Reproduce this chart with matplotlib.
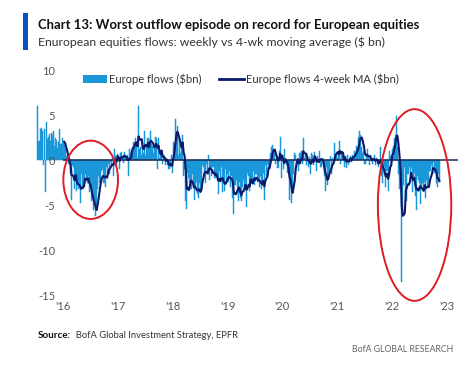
import numpy as np
import pandas as pd
import matplotlib
matplotlib.use("Agg")
import matplotlib.pyplot as plt
import matplotlib.dates as mdates
from matplotlib.patches import Ellipse, Rectangle
from matplotlib.lines import Line2D

# weekly Europe equity fund flows ($bn)
flows_2015 = [6.0, 2.1, 3.4, 3.6, 3.2, -0.6, 3.5, -3.6, 4.2, 2.3, 2.6, 2.9, 2.1,
              3.0, 2.8, 3.2, 1.6, 2.5, 2.2, 1.3, 2.0, 3.4, 1.8, 2.4, 1.9]
flows_2016 = [2.0, 1.2, 0.5, 0.3, -0.4, -0.4, -1.5, -4.4, -0.6, -0.8, -3.2, -2.0, -3.4,
              -2.2, -3.2, -2.6, -4.8, -1.6, -3.2, -2.0, -1.5, -2.2, -2.6, -1.8, -3.6, -3.0,
              -4.6, -4.2, -5.6, -4.8, -6.2, -5.6, -3.2, -1.8, -2.6, -2.4, -1.2, -1.0, -2.6,
              -3.0, -0.8, -1.4, -0.4, -1.6, -0.2, -0.5, 0.3, -1.8, 1.2, 0.5, -0.6, 0.7]
flows_2017 = [0.5, -1.0, 0.8, 0.9, 0.4, -0.3, 0.9, 0.2, 0.6, -1.8, 1.2, 0.8, 1.0,
              1.5, 2.0, 1.6, 2.5, 1.8, 0.2, 6.0, 1.2, 1.5, 0.6, 2.0, 0.8, 3.2,
              0.6, 1.4, 2.4, 1.2, 3.2, 1.8, 1.6, 0.8, 1.4, 2.6, 2.4, -1.0, 2.4,
              0.2, 1.0, 0.6, -0.4, 0.4, 0.3, -0.6, 0.1, -0.5, -1.0, -0.8, 0.6, -1.4]
flows_2018 = [2.0, 1.8, 4.6, 2.4, 3.8, 0.6, 2.6, 0.8, 1.6, 2.8, -1.8, -1.0, -4.6,
              -5.4, -1.4, -2.0, -2.6, -3.2, -1.6, -3.0, -4.4, -3.0, -2.4, -3.8, -4.2, -2.6,
              -3.6, -2.8, -0.6, -0.8, -1.4, -2.6, -0.4, -1.6, 0.6, -2.2, -1.0, -1.8, -0.8,
              -2.0, -2.0, -1.4, -2.0, -3.8, -1.2, -2.4, -0.8, -3.6, -2.6, -3.4, -1.0, -2.6]
flows_2019 = [-1.6, -2.4, -1.2, -3.0, -1.8, -4.2, -6.0, -2.8, -2.2, -3.0, -4.6, -2.4, -4.2,
              -4.5, -3.0, -2.2, -3.2, -2.6, -5.2, -1.4, -1.8, -3.4, -2.0, -2.6, -2.4, -1.2,
              -2.8, -1.6, -2.4, -2.2, -3.0, -1.8, -3.2, -2.8, -1.4, -4.4, -0.6, -1.8, -0.4,
              -0.8, -0.6, 0.8, 1.4, 1.7, 0.6, 0.9, -0.4, 0.2, -0.9, 1.0, 2.6, -2.0]
flows_2020 = [0.4, -1.0, 1.2, -0.2, -0.6, -1.4, -1.2, -4.4, -2.0, -4.8, -3.4, -1.6, 0.8,
              0.6, -0.8, -0.2, -1.2, 0.8, 1.0, -0.4, 2.5, 0.2, 0.6, -0.6, 0.4, -0.8,
              0.3, -1.6, 0.8, 0.6, -0.6, 0.9, 0.1, -1.2, 0.4, -0.2, 1.0, -0.8, 0.2,
              -0.4, -1.8, -3.4, -0.8, -2.8, -1.4, -1.2, 0.4, -1.6, 0.2, -0.4, 1.9, 0.6]
flows_2021 = [0.8, 0.2, 1.0, 2.1, -0.4, 0.9, 0.6, -0.8, 0.4, -0.9, 0.6, -0.6, 0.2,
              0.4, -0.2, 0.6, 0.3, 1.0, 0.5, 1.6, 1.2, 2.6, 3.2, 2.8, 1.4, 0.8,
              1.0, -0.4, 0.6, 1.2, 0.4, -0.6, 0.6, 0.2, -0.4, 0.0, 0.6, -0.6, 0.2,
              -0.4, -0.8, -0.2, 1.4, -1.8, -2.6, -1.0, -0.8, -3.0, -1.2, -3.4, 1.0, 0.4]
flows_2022 = [-0.4, 1.2, 1.6, 2.4, 2.0, 4.9, 1.4, -1.6, -3.2, -1.8, -13.6, -6.2, -2.8,
              -0.8, -3.8, -4.6, -1.6, -0.8, -2.4, -0.9, -3.6, -2.0, -1.4, -4.0, -5.6, -1.8,
              -2.2, -2.6, -4.9, -2.8, -2.6, -3.4, -2.4, -4.2, -2.2, -3.0, -2.6, -1.2, -0.6,
              -1.6, -0.2, -1.4, -1.0, -2.6, -3.0, -1.6, -2.2]

first_week = "2015-07-15"
ma_start = "2016-01-01"
year_ticks = [2016, 2017, 2018, 2019, 2020, 2021, 2022, 2023]
year_labels = ["'16", "'17", "'18", "'19", "'20", "'21", "'22", "'23"]
y_ticks = [10, 5, 0, -5, -10, -15]

flows = (flows_2015 + flows_2016 + flows_2017 + flows_2018
         + flows_2019 + flows_2020 + flows_2021 + flows_2022)
weeks = pd.date_range(first_week, periods=len(flows), freq="7D")
series = pd.Series(flows, index=weeks)
ma4 = series.rolling(4).mean()
ma4 = ma4[ma4.index >= ma_start]

BAR_BLUE = "#1a97d8"
NAVY = "#0b1a6b"
GREY = "#555555"
RED = "#e01b24"
FONT = ["Lato", "DejaVu Sans"]

W, H = 474, 374
fig = plt.figure(figsize=(W / 100, H / 100), dpi=100)
fig.patch.set_facecolor("white")


def px(x, y):
    return x / W, 1 - y / H


ax_l, ax_r, ax_t, ax_b = 36, 458, 70, 295
ax = fig.add_axes([ax_l / W, 1 - ax_b / H, (ax_r - ax_l) / W, (ax_b - ax_t) / H])
ax.set_ylim(-15, 10)
ax.set_xlim(pd.Timestamp("2015-07-02"), pd.Timestamp("2023-03-20"))

ax.bar(series.index, series.values, width=7.0, color=BAR_BLUE,
       edgecolor=BAR_BLUE, linewidth=0.35, zorder=1)
ax.hlines(0, pd.Timestamp(ma_start), pd.Timestamp("2023-03-20"), color="#1c2a55",
          linewidth=1.1, zorder=2)
ax.plot(ma4.index, ma4.values, color=NAVY, linewidth=1.5, zorder=3,
        solid_joinstyle="round")

for s in ax.spines.values():
    s.set_visible(False)

ax.set_yticks(y_ticks)
ax.set_yticklabels([str(v) for v in y_ticks])
ax.set_xticks([pd.Timestamp(f"{y}-01-01") for y in year_ticks])
ax.set_xticklabels(year_labels)
ax.tick_params(axis="y", length=0, pad=-13.7, labelsize=8, labelcolor=GREY)
ax.tick_params(axis="x", length=0, pad=4.5, labelsize=8, labelcolor=GREY)
for lab in ax.get_xticklabels() + ax.get_yticklabels():
    lab.set_family(FONT)

# red highlight circles
d2n = mdates.date2num
e1 = Ellipse((d2n(pd.Timestamp("2016-07-01")), -2.2), width=365, height=8.7,
             fill=False, edgecolor=RED, linewidth=1.4, zorder=4, clip_on=False)
e2 = Ellipse((d2n(pd.Timestamp("2022-06-03")), -5.0), width=490, height=21.3,
             fill=False, edgecolor=RED, linewidth=1.4, zorder=4, clip_on=False)
ax.add_patch(e1)
ax.add_patch(e2)

# legend
handles = [Rectangle((0, 0), 1, 1, color=BAR_BLUE, linewidth=0),
           Line2D([], [], color=NAVY, linewidth=2)]
fig.legend(handles, ["Europe flows ($bn)", "Europe flows 4-week MA ($bn)"],
           loc="center left", bbox_to_anchor=px(83, 79), ncol=2, frameon=False,
           borderaxespad=0, borderpad=0, handlelength=2.2, handletextpad=0.15,
           columnspacing=1.6, prop={"family": FONT, "size": 8},
           labelcolor="#333333")

# header
fig.patches.append(Rectangle(px(23, 50), 5 / W, 37 / H, transform=fig.transFigure,
                             color="#0a4fc4", linewidth=0))
title = fig.text(*px(38, 25), "Chart 13: Worst outflow episode on record for European equities",
                 fontsize=10, fontweight="bold", family=FONT, color="#111111",
                 va="center", ha="left")
subtitle = fig.text(*px(38, 42), "Enuropean equities flows: weekly vs 4-wk moving average ($ bn)",
                    fontsize=9, family=FONT, color="#333333", va="center", ha="left")

# footer
source = fig.text(*px(38, 336), "Source:", fontsize=8, fontweight="bold", family=FONT,
                  color="#111111", va="center", ha="left")
source_rest = fig.text(*px(70, 336), "  BofA Global Investment Strategy, EPFR", fontsize=8,
                       family=FONT, color="#333333", va="center", ha="left")
brand = fig.text(*px(453, 350), "BofA GLOBAL RESEARCH", fontsize=7.5, family=FONT,
                 color="#666666", va="center", ha="right")

fig.canvas.draw()
renderer = fig.canvas.get_renderer()


def fit(txt, target_px):
    w = txt.get_window_extent(renderer).width
    txt.set_fontsize(txt.get_fontsize() * target_px / w)


fit(title, 420 - 38)
fit(subtitle, 388 - 38)
fit(brand, 453 - 350)
fit(source, 71 - 38)
fig.canvas.draw()
sx = source.get_window_extent(renderer).x1
source_rest.set_x(sx / W)
source_rest.set_fontsize(source.get_fontsize())
fit(source_rest, 238 - sx)

fig.savefig("out.png", dpi=100, facecolor="white")
